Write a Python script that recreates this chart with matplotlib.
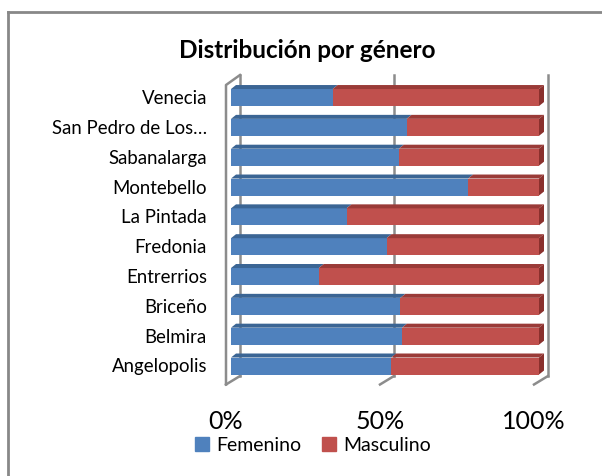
import matplotlib
matplotlib.use("Agg")
import matplotlib.pyplot as plt
from matplotlib.patches import Polygon, Patch
from matplotlib.lines import Line2D

plt.rcParams['font.family'] = ['Lato', 'DejaVu Sans']

# Data (share of each gender per municipality)
municipios = ['Angelopolis', 'Belmira', 'Briceño', 'Entrerrios', 'Fredonia',
              'La Pintada', 'Montebello', 'Sabanalarga', 'San Pedro de Los…', 'Venecia']
femenino = [0.52, 0.555, 0.55, 0.285, 0.505, 0.375, 0.77, 0.545, 0.57, 0.33]
masculino = [1 - f for f in femenino]
ticks = [0, 0.5, 1.0]
tick_labels = ['0%', '50%', '100%']

W, H = 602, 477
fig = plt.figure(figsize=(W / 100, H / 100), dpi=100)

# axes placed so that 0..1 maps to the bar front faces
ax_l, ax_w = 231, 308
y0_px, pitch = 367, 29.83
ylo, yhi = -1, 10
bot_px = y0_px - pitch * ylo
top_px = y0_px - pitch * yhi
ax = fig.add_axes([ax_l / W, (H - bot_px) / H, ax_w / W, (bot_px - top_px) / H])
ax.set_xlim(0, 1)
ax.set_ylim(ylo, yhi)
ax.axis('off')

DX = 1 / ax_w   # data units per pixel
DY = 1 / pitch

# walls / gridlines (back plane is 9 px right of the bar front)
grid_c = '#8c8c8c'
back_x = 9 * DX
floor_front = (-5 * DX, -(385.5 - y0_px) * DY)
floor_back_y = -(377 - y0_px) * DY
wall_top_back = -(76 - y0_px) * DY
wall_top_front = -(86 - y0_px) * DY
for t in ticks:
    ax.add_line(Line2D([t + back_x, t + back_x], [floor_back_y, wall_top_back],
                       color=grid_c, lw=1.8, zorder=1, clip_on=False))
    ax.add_line(Line2D([t + floor_front[0], t + back_x], [floor_front[1], floor_back_y],
                       color=grid_c, lw=1.8, zorder=1, clip_on=False))
ax.add_line(Line2D([floor_front[0], floor_front[0], back_x],
                   [floor_front[1], wall_top_front, wall_top_back],
                   color=grid_c, lw=1.8, zorder=1, clip_on=False))

# bars with a small 3D offset
blue, red = '#4F81BD', '#C0504D'
blue_top, red_top, red_side = '#3B6594', '#9A3B38', '#8A302D'
bh = 17 * DY
ddx, ddy = 5 * DX, 4 * DY
ys = list(range(len(municipios)))
ax.barh(ys, femenino, height=bh, color=blue, zorder=3, clip_on=False)
ax.barh(ys, masculino, left=femenino, height=bh, color=red, zorder=3, clip_on=False)
for y, f, m in zip(ys, femenino, masculino):
    top = y + bh / 2
    bot = y - bh / 2
    ax.add_patch(Polygon([(0, top), (f, top), (f + ddx, top + ddy), (ddx, top + ddy)],
                         closed=True, color=blue_top, lw=0, zorder=3, clip_on=False))
    ax.add_patch(Polygon([(f, top), (f + m, top), (f + m + ddx, top + ddy), (f + ddx, top + ddy)],
                         closed=True, color=red_top, lw=0, zorder=3, clip_on=False))
    ax.add_patch(Polygon([(f + m, bot), (f + m, top), (f + m + ddx, top + ddy), (f + m + ddx, bot + ddy)],
                         closed=True, color=red_side, lw=0, zorder=3, clip_on=False))

# category labels
for y, name in zip(ys, municipios):
    ax.text(-24 * DX, y, name, ha='right', va='center', fontsize=13.4, color='#000000')

# x tick labels under the front floor edge
for t, lab in zip(ticks, tick_labels):
    ax.text(t + floor_front[0], -(422 - y0_px) * DY, lab, ha='center', va='center',
            fontsize=18, color='#000000')

fig.text(307 / W, 1 - 50 / H, 'Distribución por género', ha='center', va='center',
         fontsize=17.5, fontweight='bold')

handles = [Patch(color=blue, label='Femenino'), Patch(color=red, label='Masculino')]
fig.legend(handles=handles, loc='center', bbox_to_anchor=(313 / W, 1 - 446 / H), ncol=2,
           frameon=False, fontsize=14, handlelength=0.7, handleheight=0.7,
           handletextpad=0.35, columnspacing=1.1)

# chart frame (only top and left edges are visible in the picture)
fig.add_artist(Line2D([8 / W, 8 / W], [0, 1 - 13 / H], color='#888888', lw=2,
                      transform=fig.transFigure))
fig.add_artist(Line2D([8 / W, 1], [1 - 13 / H, 1 - 13 / H], color='#888888', lw=2,
                      transform=fig.transFigure))

fig.savefig('out.png', dpi=100)
